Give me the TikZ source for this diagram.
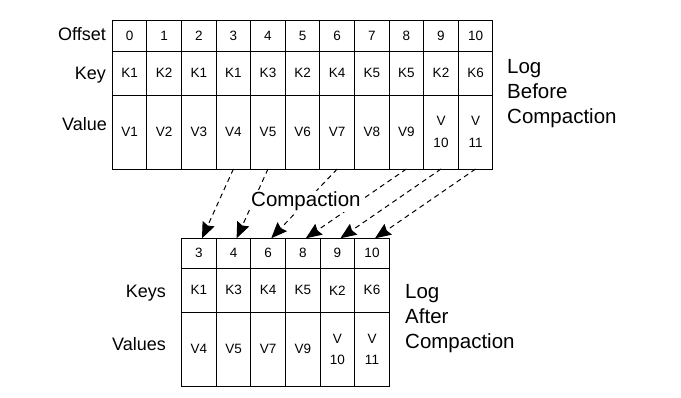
\documentclass[tikz,border=0pt]{standalone}
\usepackage{fontspec}
\setmainfont{Liberation Sans}
\usepackage{tikz}
\usetikzlibrary{arrows.meta, positioning, calc}
\definecolor{inkc}{RGB}{0,0,0}
\tikzset{
  cell/.style={
    rectangle, draw=inkc, line width=1pt, inner sep=0pt, outer sep=0pt,
    minimum width=34.6pt, align=center, text=inkc,
    font=\fontsize{13.5}{21.5}\selectfont
  },
  offrow/.style={cell, minimum height=31pt},
  keyrow/.style={cell, minimum height=44pt},
  valrow/.style={cell, minimum height=74pt},
  rowlbl/.style={font=\fontsize{18}{21}\selectfont, text=inkc, anchor=base east, inner sep=0pt},
  loglbl/.style={font=\fontsize{20.5}{25}\selectfont, text=inkc, anchor=base west,
                 align=left, inner sep=0pt},
  tag/.style={font=\fontsize{20.5}{24}\selectfont, text=inkc, fill=white,
              anchor=base west, inner sep=1pt},
  move/.style={-{Stealth[length=16pt, width=13pt, inset=2pt]}, line width=1pt, draw=inkc,
               dash pattern=on 5pt off 4pt},
}
% one column of the log before compaction: offset, key, value
\newcommand{\oldcol}[3]{%
  \node[offrow] (bo#1) at ({112.3+(#1+0.5)*34.6},35.5) {#1};
  \node[keyrow, below=0pt of bo#1] (bk#1) {#2};
  \node[valrow, below=0pt of bk#1] (bv#1) {#3};}
% one column of the log after compaction: slot, offset kept, key, value
\newcommand{\newcol}[4]{%
  \node[offrow, minimum height=30pt] (ao#1) at ({181.7+(#1+0.5)*34.6},253.3) {#2};
  \node[keyrow, below=0pt of ao#1] (ak#1) {#3};
  \node[valrow, below=0pt of ak#1] (av#1) {#4};}

\begin{document}
\begin{tikzpicture}[x=1pt, y=-1pt]
  \useasboundingbox (0,0) rectangle (681,397);

  % log before compaction
  \oldcol{0}{K1}{V1}
  \oldcol{1}{K2}{V2}
  \oldcol{2}{K1}{V3}
  \oldcol{3}{K1}{V4}
  \oldcol{4}{K3}{V5}
  \oldcol{5}{K2}{V6}
  \oldcol{6}{K4}{V7}
  \oldcol{7}{K5}{V8}
  \oldcol{8}{K5}{V9}
  \oldcol{9}{K2}{V\\10}
  \oldcol{10}{K6}{V\\11}

  \node[rowlbl] (offlbl) at (106,40.7) {Offset};
  \node[rowlbl] (keylbl) at (106,79) {Key};
  \node[rowlbl] (vallbl) at (107,130.7) {Value};
  \node[loglbl] (before) at (507,123.3) {Log\\Before\\Compaction};

  % log after compaction
  \newcol{0}{3}{K1}{V4}
  \newcol{1}{4}{K3}{V5}
  \newcol{2}{6}{K4}{V7}
  \newcol{3}{8}{K5}{V9}
  \newcol{4}{9}{K2}{V\\10}
  \newcol{5}{10}{K6}{V\\11}

  \node[rowlbl] (keyslbl) at (166,297.3) {Keys};
  \node[rowlbl] (valslbl) at (166,350) {Values};
  \node[loglbl] (after) at (405,348.3) {Log\\After\\Compaction};

  \draw[move] (bv3.south) -- ([xshift=3pt]ao0.north);
  \draw[move] (bv4.south) -- ([xshift=3pt]ao1.north);
  \draw[move] (bv6.south) -- ([xshift=3pt]ao2.north);
  \draw[move] (bv8.south) -- ([xshift=3pt]ao3.north);
  \draw[move] (bv9.south) -- ([xshift=3pt]ao4.north);
  \draw[move] (bv10.south) -- ([xshift=3pt]ao5.north);

  \node[tag] (compact) at (250,206.7) {Compaction};

\end{tikzpicture}
\end{document}
